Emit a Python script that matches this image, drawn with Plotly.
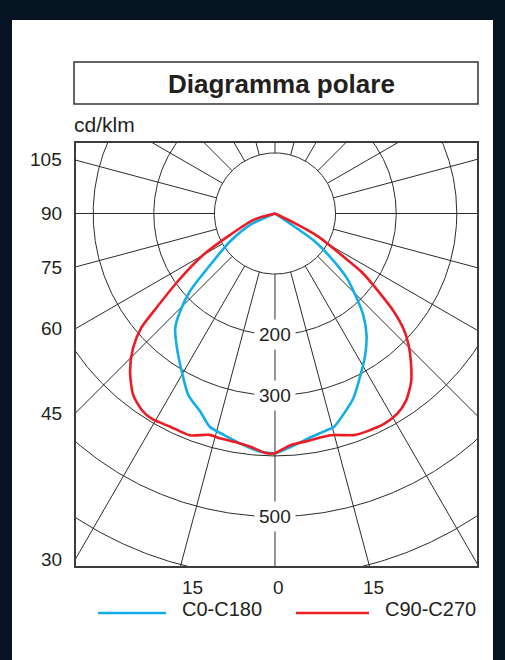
import numpy as np
import plotly.graph_objects as go

# Luminous intensity distribution (cd/klm), angles in degrees from nadir.
# Each half-plane listed from 0 deg (downwards) to 90 deg (horizontal).
C0_DEG = [0, 4, 8.5, 13, 15.5, 19.5, 23, 28, 32.5, 37, 41, 44, 48, 51.5, 55, 90]
C0_CD = [396, 386, 375, 368, 365, 347, 331, 301, 277, 251, 222, 194, 160, 119, 81, 0]

C180_DEG = [0, 3.5, 8.5, 13, 17, 20.5, 25.5, 30.5, 36, 41, 44, 47.5, 51.5, 58, 65.5, 90]
C180_CD = [396, 394, 384, 375, 368, 350, 332, 303, 275, 251, 226, 191, 137, 88, 45, 0]

C90_DEG = [0, 4, 8.5, 14, 19.5, 22.5, 27.5, 31.5, 35, 39, 42.5, 45.5, 48, 50.5, 53, 56, 58, 62, 64, 90]
C90_CD = [396, 383, 379, 377, 388, 390, 391, 387, 377, 357, 332, 309, 286, 254, 214, 172, 130, 81, 37, 0]

C270_DEG = [0, 2, 6, 9.5, 13.5, 16.5, 21, 26, 31, 34, 38, 42.5, 46.5, 49.5, 51.5, 55, 60, 64.5, 73.5, 90]
C270_CD = [396, 396, 387, 383, 382, 381, 392, 392, 395, 392, 380, 354, 323, 290, 250, 197, 137, 82, 37, 0]

# Polar grid
RINGS = [100, 200, 300, 400, 500, 600, 700]
RING_LABELS = [200, 300, 500]
SPOKE_STEP = 15
ANGLE_LABELS = [105, 90, 75, 60, 45, 30]
BOTTOM_LABELS = ["15", "0", "15"]
BOTTOM_LABEL_PX = [192, 278, 373]

SERIES = [
    ("C0-C180", C180_DEG, C180_CD, C0_DEG, C0_CD, "#12aee8"),
    ("C90-C270", C270_DEG, C270_CD, C90_DEG, C90_CD, "#ec1c24"),
]

# Canvas layout (pixels)
FIG_W, FIG_H = 505, 660
ML, MR, MT, MB = 75, 27, 142, 93
PW, PH = FIG_W - ML - MR, FIG_H - MT - MB
X_RANGE = [-330.0, 335.0]
Y_RANGE = [-583.3, 118.0]

FONT = "Liberation Sans, Arial, Helvetica, sans-serif"
INK = "#231f20"
GRID = "#2b2b2b"


def px(xp):
    return (xp - ML) / PW


def py(yp):
    return (FIG_H - MB - yp) / PH


def polar_xy(deg, cd, side):
    t = np.radians(np.asarray(deg, dtype=float))
    r = np.asarray(cd, dtype=float)
    return side * r * np.sin(t), -r * np.cos(t)


fig = go.Figure()

# rings
phi = np.linspace(0, 2 * np.pi, 721)
for r in RINGS:
    fig.add_trace(go.Scatter(x=r * np.cos(phi), y=r * np.sin(phi), mode="lines",
                             line=dict(color=GRID, width=1), hoverinfo="skip",
                             showlegend=False))

# spokes, starting on the innermost ring
sx, sy = [], []
for a in range(0, 360, SPOKE_STEP):
    t = np.radians(a)
    sx += [RINGS[0] * np.sin(t), 1200 * np.sin(t), None]
    sy += [-RINGS[0] * np.cos(t), -1200 * np.cos(t), None]
fig.add_trace(go.Scatter(x=sx, y=sy, mode="lines", line=dict(color=GRID, width=1),
                         hoverinfo="skip", showlegend=False))

# intensity curves: each half-plane drawn separately so the tips stay pointed
for name, ldeg, lcd, rdeg, rcd, color in SERIES:
    for deg, cd, side in ((ldeg, lcd, -1), (rdeg, rcd, 1)):
        x, y = polar_xy(deg, cd, side)
        fig.add_trace(go.Scatter(x=x, y=y, mode="lines", name=name,
                                 line=dict(color=color, width=2.6, shape="spline",
                                           smoothing=0.7),
                                 showlegend=False))

annotations = []
# ring values on the vertical axis
for v in RING_LABELS:
    annotations.append(dict(x=0, y=-v, xref="x", yref="y", text=str(v), showarrow=False,
                            font=dict(family=FONT, size=19, color=INK),
                            bgcolor="white", borderpad=4))
# angle labels where the spokes meet the left frame
for a in ANGLE_LABELS:
    t = np.radians(a)
    yv = X_RANGE[0] * np.cos(t) / np.sin(t)
    annotations.append(dict(x=X_RANGE[0], y=yv, xref="x", yref="y", text=str(a),
                            showarrow=False, xanchor="right", yanchor="middle", xshift=-11,
                            font=dict(family=FONT, size=19, color=INK)))
for lab, xp in zip(BOTTOM_LABELS, BOTTOM_LABEL_PX):
    annotations.append(dict(x=px(xp), y=py(587), xref="paper", yref="paper", text=lab,
                            showarrow=False, xanchor="center", yanchor="middle",
                            font=dict(family=FONT, size=19, color=INK)))
# title and unit
annotations.append(dict(x=px(281), y=py(84), xref="paper", yref="paper",
                        text="<b>Diagramma polare</b>", showarrow=False,
                        xanchor="center", yanchor="middle",
                        font=dict(family=FONT, size=26, color=INK)))
annotations.append(dict(x=px(72), y=py(124), xref="paper", yref="paper", text="cd/klm",
                        showarrow=False, xanchor="left", yanchor="middle",
                        font=dict(family=FONT, size=21, color=INK)))

shapes = [
    # white panel on the dark page
    dict(type="rect", xref="paper", yref="paper", x0=px(12), x1=px(493), y0=py(20), y1=py(662),
         fillcolor="white", line=dict(width=0), layer="below"),
    # title box
    dict(type="rect", xref="paper", yref="paper", x0=px(74), x1=px(478), y0=py(62), y1=py(104),
         line=dict(color="#333333", width=1.5)),
    # diagram frame
    dict(type="rect", xref="paper", yref="paper", x0=0, x1=1, y0=0, y1=1,
         line=dict(color="#3c3c3c", width=2)),
]

# legend drawn below the diagram
legend_px = [(98, 166, 180), (296, 369, 383)]
for (name, *_rest, color), (x0, x1, xt) in zip(SERIES, legend_px):
    shapes.append(dict(type="line", xref="paper", yref="paper", x0=px(x0), x1=px(x1),
                       y0=py(613), y1=py(613), line=dict(color=color, width=2.5)))
    annotations.append(dict(x=px(xt), y=py(609), xref="paper", yref="paper", text=name,
                            showarrow=False, xanchor="left", yanchor="middle",
                            font=dict(family=FONT, size=20, color=INK)))

fig.update_layout(
    width=FIG_W, height=FIG_H,
    margin=dict(l=ML, r=MR, t=MT, b=MB, autoexpand=False),
    paper_bgcolor="#061320", plot_bgcolor="white",
    xaxis=dict(range=X_RANGE, visible=False, fixedrange=True),
    yaxis=dict(range=Y_RANGE, visible=False, fixedrange=True),
    shapes=shapes, annotations=annotations, showlegend=False,
)

fig.write_html("out.html", config=dict(displayModeBar=False))
